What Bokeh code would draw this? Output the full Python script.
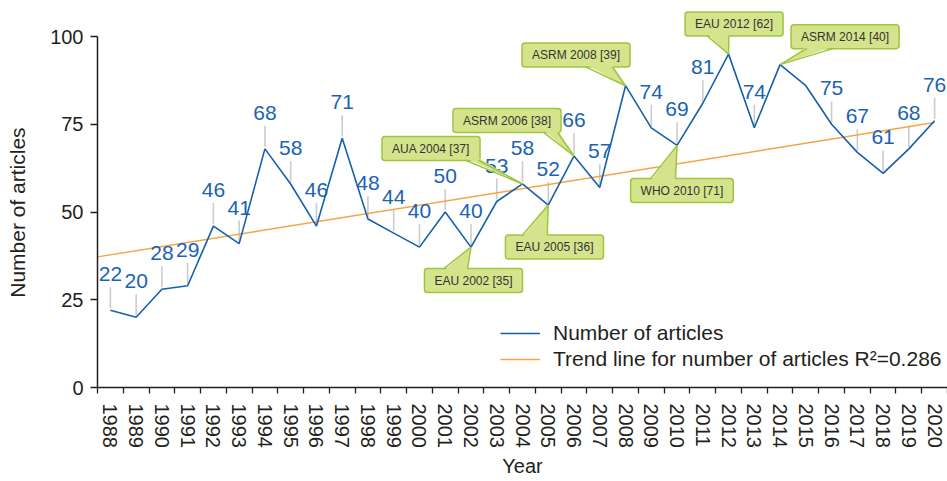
import numpy as np
from bokeh.plotting import figure
from bokeh.models import Range1d, FixedTicker, Legend, LegendItem, ColumnDataSource
from bokeh.core.properties import value
from bokeh.embed import file_html
from bokeh.resources import INLINE

# ---------------- data ----------------
years = [1988, 1989, 1990, 1991, 1992, 1993, 1994, 1995, 1996, 1997, 1998,
         1999, 2000, 2001, 2002, 2003, 2004, 2005, 2006, 2007, 2008, 2009,
         2010, 2011, 2012, 2013, 2014, 2015, 2016, 2017, 2018, 2019, 2020]
articles = [22, 20, 28, 29, 46, 41, 68, 58, 46, 71, 48,
            44, 40, 50, 40, 53, 58, 52, 66, 57, 86, 74,
            69, 81, 95, 74, 92, 86, 75, 67, 61, 68, 76]
unlabelled_years = [2008, 2012, 2014, 2015]

callout_years = [2002, 2004, 2005, 2006, 2008, 2010, 2012, 2014]
callout_texts = ["EAU 2002 [35]", "AUA 2004 [37]", "EAU 2005 [36]", "ASRM 2006 [38]",
                 "ASRM 2008 [39]", "WHO 2010 [71]", "EAU 2012 [62]", "ASRM 2014 [40]"]

trend_years = [1988, 2020]
trend_values = [37.8, 75.5]
r_squared = "0.286"

y_ticks = [0, 25, 50, 75, 100]

# ---------------- layout / style ----------------
FONT = "Liberation Sans"
AX = "#231f20"
BLUE_LINE = "#1660ad"
BLUE_TXT = "#1a63b3"
ORANGE = "#f7a444"
GREEN_FILL = "#d5e48c"
GREEN_EDGE = "#9ec53e"

W, H = 947, 481
ML, MR, MT, MB = 97, 0, 8, 94
X0, X1 = years[0] - 0.5, years[-1] + 0.5
Y0, Y1 = 0, 108
PXX = (W - ML - MR) / (X1 - X0)
PXY = (H - MT - MB) / (Y1 - Y0)

# callout geometry, in screen pixels relative to the data point (y down):
# (box dx, box dy, pointer base x1, pointer base x2)
callout_layout = [
    (2.5, 33.4, -27.5, -3.5),
    (-91.5, -35.4, -57.0, -44.0),
    (6.2, 42.0, -26.0, -1.0),
    (-67.0, -35.3, -30.5, -16.5),
    (-49.5, -30.6, -40.0, -13.3),
    (4.9, 45.2, -26.6, -1.6),
    (5.5, -30.0, -21.3, 0.3),
    (65.0, -28.0, 27.0, 53.7),
]
BOX_HALF_H = 11.7

p = figure(width=W, height=H, output_backend="svg", toolbar_location=None,
           x_range=Range1d(X0, X1), y_range=Range1d(Y0, Y1),
           min_border_left=ML, min_border_right=MR, min_border_top=MT,
           min_border_bottom=MB, outline_line_color=None,
           background_fill_color="white", border_fill_color="white")
p.grid.visible = False

# axes
xa = p.xaxis[0]
xa.ticker = FixedTicker(ticks=years, minor_ticks=[y - 0.5 for y in years] + [years[-1] + 0.5])
xa.major_label_orientation = "vertical"
xa.major_tick_line_color = None
xa.major_tick_out = 6
xa.major_tick_in = 0
xa.minor_tick_line_color = AX
xa.minor_tick_line_width = 1.3
xa.minor_tick_out = 6
xa.minor_tick_in = 0
xa.major_label_standoff = 10
xa.axis_line_color = AX
xa.axis_line_width = 1.5
xa.major_label_text_font = FONT
xa.major_label_text_font_size = "20px"
xa.major_label_text_color = AX
xa.axis_label = "Year"
xa.axis_label_text_font = FONT
xa.axis_label_text_font_size = "20px"
xa.axis_label_text_font_style = "normal"
xa.axis_label_text_color = AX
xa.axis_label_standoff = 4

ya = p.yaxis[0]
ya.ticker = FixedTicker(ticks=y_ticks)
ya.bounds = (y_ticks[0], y_ticks[-1])
ya.minor_tick_line_color = None
ya.major_tick_out = 7
ya.major_tick_in = 0
ya.major_tick_line_color = AX
ya.major_tick_line_width = 1.3
ya.axis_line_color = AX
ya.axis_line_width = 1.5
ya.major_label_standoff = 7
ya.major_label_text_font = FONT
ya.major_label_text_font_size = "20px"
ya.major_label_text_color = AX
# trailing no-break spaces keep the label centred on the 0-100 part of the axis
ya.axis_label = "Number of articles" + "\u00a0" * 5
ya.axis_label_text_font = FONT
ya.axis_label_text_font_size = "21px"
ya.axis_label_text_font_style = "normal"
ya.axis_label_text_color = AX
ya.axis_label_standoff = 18

# leader lines and value labels
lab_x = [yr for yr in years if yr not in unlabelled_years]
lab_v = [v for yr, v in zip(years, articles) if yr not in unlabelled_years]
lead = ColumnDataSource(dict(x=lab_x,
                             y0=[v + 2 / PXY for v in lab_v],
                             y1=[v + 23 / PXY for v in lab_v],
                             v=lab_v, t=[str(v) for v in lab_v]))
p.segment(x0="x", y0="y0", x1="x", y1="y1", source=lead, line_color="#cccccc", line_width=1.6)

# trend line
slope = (trend_values[1] - trend_values[0]) / (trend_years[1] - trend_years[0])
tx = [X0, trend_years[1]]
ty = [trend_values[0] + (X0 - trend_years[0]) * slope, trend_values[1]]
trend = p.line(tx, ty, line_color=ORANGE, line_width=1.4)

main = p.line(years, articles, line_color=BLUE_LINE, line_width=1.6)

p.text(x="x", y="v", text="t", source=lead, y_offset=-36, text_align="center",
       text_baseline="middle", text_font=value(FONT), text_font_size="21px",
       text_color=BLUE_TXT)

# callouts
val_of = dict(zip(years, articles))
cx, cy, cdx, cdy = [], [], [], []
pxs, pys, exs, eys = [], [], [], []
for yr, (bdx, bdy, b1, b2) in zip(callout_years, callout_layout):
    v = val_of[yr]
    cx.append(yr); cy.append(v); cdx.append(bdx); cdy.append(bdy)
    if bdy > 0:
        edge = bdy - BOX_HALF_H
        inner = edge + 2.2
    else:
        edge = bdy + BOX_HALF_H
        inner = edge - 2.2
    pxs.append([yr + b1 / PXX, yr + b2 / PXX, yr])
    pys.append([v - inner / PXY, v - inner / PXY, v])
    exs.append([yr + b1 / PXX, yr])
    eys.append([v - edge / PXY, v])
    exs.append([yr + b2 / PXX, yr])
    eys.append([v - edge / PXY, v])

p.text(x=cx, y=cy, text=callout_texts, x_offset=cdx, y_offset=cdy,
       text_align="center", text_baseline="middle", text_font=value(FONT),
       text_font_size="12px", text_color="#333333",
       background_fill_color=GREEN_FILL, border_line_color=GREEN_EDGE,
       border_line_width=1.5, padding=dict(left=10, right=10, top=5, bottom=5),
       border_radius=3)
p.patches(pxs, pys, fill_color=GREEN_FILL, line_color=None)
p.multi_line(exs, eys, line_color=GREEN_EDGE, line_width=1.5)

legend = Legend(items=[LegendItem(label="Number of articles", renderers=[main]),
                       LegendItem(label="Trend line for number of articles R\u00b2=" + r_squared,
                                  renderers=[trend])],
                location=(403, 16), padding=0, margin=0, spacing=2,
                label_height=24, glyph_height=24, glyph_width=40, label_standoff=13,
                label_text_font=FONT, label_text_font_size="21px", label_text_color=AX,
                background_fill_alpha=0, border_line_alpha=0)
p.add_layout(legend)

open("out.html", "w").write(file_html(p, INLINE))
